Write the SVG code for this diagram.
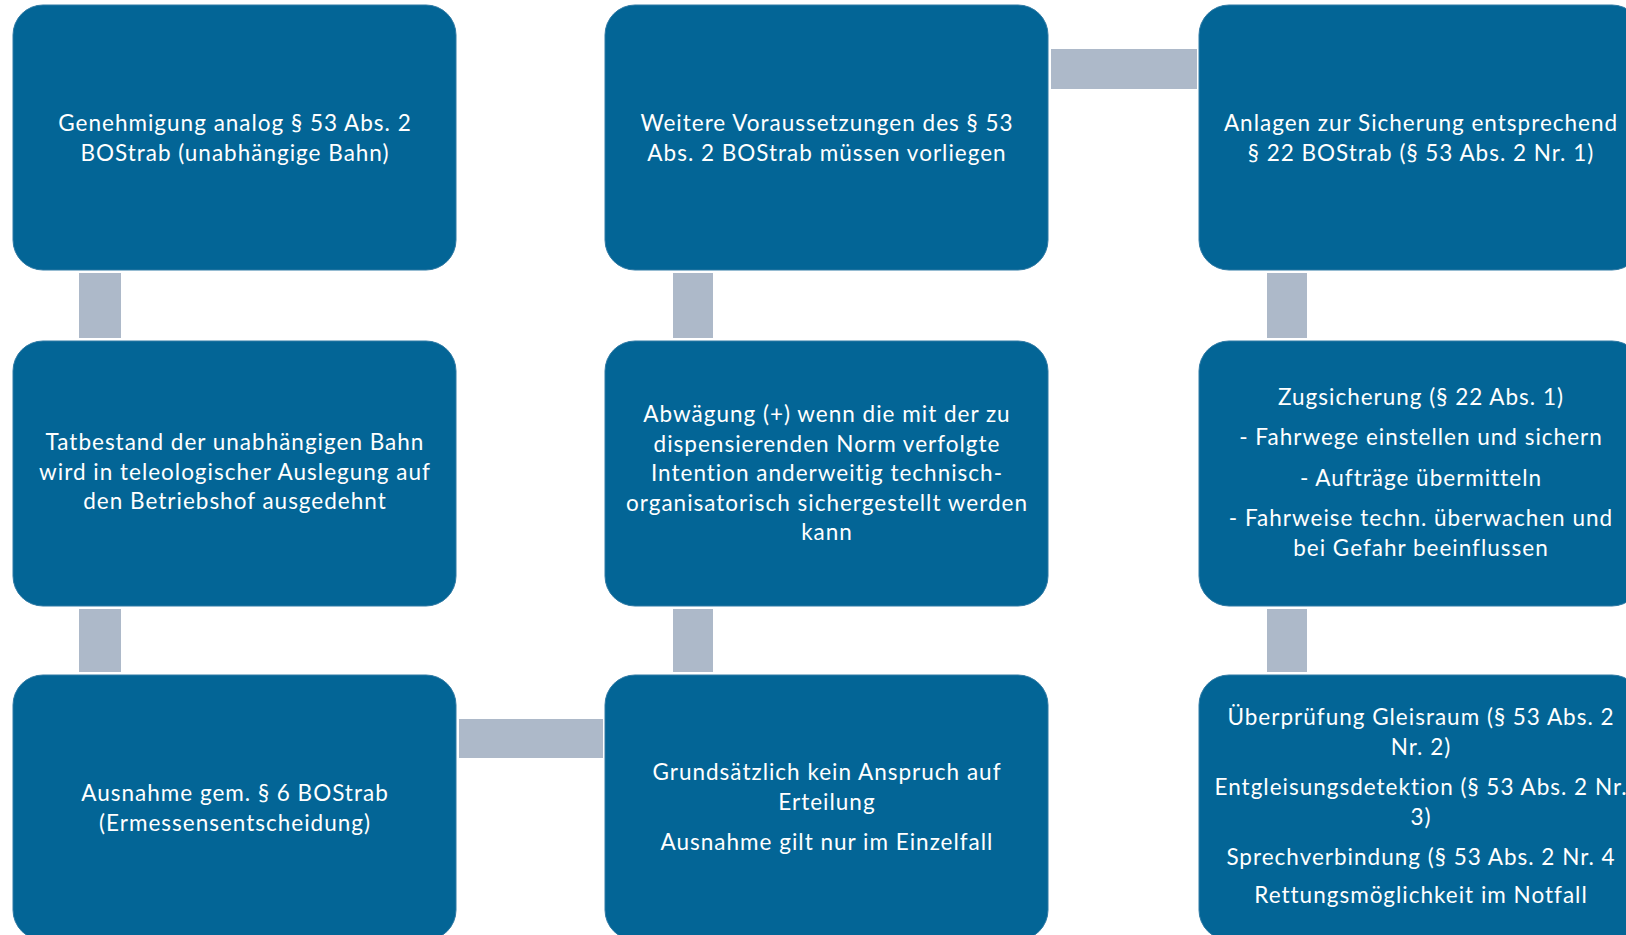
<svg xmlns="http://www.w3.org/2000/svg" width="1626" height="935" viewBox="0 0 1626 935">
<style>
.box{fill:#036596;stroke:#2f7aa5;stroke-width:1}
.con{fill:#adb9c9}
.t{font-family:Lato,"Liberation Sans",sans-serif;font-size:22.5px;letter-spacing:1px;fill:#ffffff;text-anchor:middle}
</style>
<rect width="1626" height="935" fill="#ffffff"/>
<g id="connectors">
<rect class="con" x="79" y="273" width="42" height="65"/>
<rect class="con" x="79" y="609" width="42" height="63"/>
<rect class="con" x="673" y="273" width="40" height="65"/>
<rect class="con" x="673" y="609" width="40" height="63"/>
<rect class="con" x="1267" y="273" width="40" height="65"/>
<rect class="con" x="1267" y="609" width="40" height="63"/>
<rect class="con" x="1051" y="49" width="146" height="40"/>
<rect class="con" x="459" y="719" width="144" height="39"/>
</g>
<g id="n1">
<rect class="box" x="13" y="5" width="443" height="265" rx="30"/>
<text class="t" x="235" y="131">Genehmigung analog § 53 Abs. 2</text>
<text class="t" x="235" y="161">BOStrab (unabhängige Bahn)</text>
</g>
<g id="n2">
<rect class="box" x="605" y="5" width="443" height="265" rx="30"/>
<text class="t" x="827" y="131">Weitere Voraussetzungen des § 53</text>
<text class="t" x="827" y="161">Abs. 2 BOStrab müssen vorliegen</text>
</g>
<g id="n3">
<rect class="box" x="1199" y="5" width="443" height="265" rx="30"/>
<text class="t" x="1421" y="131">Anlagen zur Sicherung entsprechend</text>
<text class="t" x="1421" y="161">§ 22 BOStrab (§ 53 Abs. 2 Nr. 1)</text>
</g>
<g id="n4">
<rect class="box" x="13" y="341" width="443" height="265" rx="30"/>
<text class="t" x="235" y="450">Tatbestand der unabhängigen Bahn</text>
<text class="t" x="235" y="479.5">wird in teleologischer Auslegung auf</text>
<text class="t" x="235" y="509">den Betriebshof ausgedehnt</text>
</g>
<g id="n5">
<rect class="box" x="605" y="341" width="443" height="265" rx="30"/>
<text class="t" x="827" y="422">Abwägung (+) wenn die mit der zu</text>
<text class="t" x="827" y="451.5">dispensierenden Norm verfolgte</text>
<text class="t" x="827" y="481">Intention anderweitig technisch-</text>
<text class="t" x="827" y="510.5">organisatorisch sichergestellt werden</text>
<text class="t" x="827" y="540">kann</text>
</g>
<g id="n6">
<rect class="box" x="1199" y="341" width="443" height="265" rx="30"/>
<text class="t" x="1421" y="405">Zugsicherung (§ 22 Abs. 1)</text>
<text class="t" x="1421" y="445">- Fahrwege einstellen und sichern</text>
<text class="t" x="1421" y="486">- Aufträge übermitteln</text>
<text class="t" x="1421" y="526">- Fahrweise techn. überwachen und</text>
<text class="t" x="1421" y="556">bei Gefahr beeinflussen</text>
</g>
<g id="n7">
<rect class="box" x="13" y="675" width="443" height="265" rx="30"/>
<text class="t" x="235" y="801">Ausnahme gem. § 6 BOStrab</text>
<text class="t" x="235" y="831">(Ermessensentscheidung)</text>
</g>
<g id="n8">
<rect class="box" x="605" y="675" width="443" height="265" rx="30"/>
<text class="t" x="827" y="780">Grundsätzlich kein Anspruch auf</text>
<text class="t" x="827" y="810">Erteilung</text>
<text class="t" x="827" y="850">Ausnahme gilt nur im Einzelfall</text>
</g>
<g id="n9">
<rect class="box" x="1199" y="675" width="443" height="265" rx="30"/>
<text class="t" x="1421" y="725">Überprüfung Gleisraum (§ 53 Abs. 2</text>
<text class="t" x="1421" y="755">Nr. 2)</text>
<text class="t" x="1421" y="795">Entgleisungsdetektion (§ 53 Abs. 2 Nr.</text>
<text class="t" x="1421" y="825">3)</text>
<text class="t" x="1421" y="865">Sprechverbindung (§ 53 Abs. 2 Nr. 4</text>
<text class="t" x="1421" y="903">Rettungsmöglichkeit im Notfall</text>
</g>
</svg>
